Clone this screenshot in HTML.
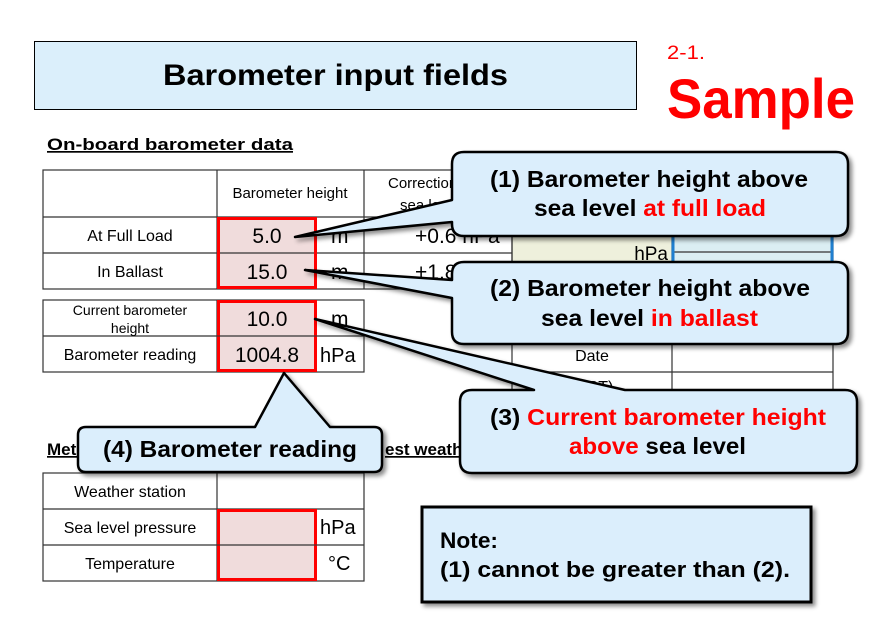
<!DOCTYPE html>
<html><head><meta charset="utf-8"><style>
html,body{margin:0;padding:0;background:#fff;}
svg{display:block;}
text{font-family:"Liberation Sans","Noto Sans CJK JP",sans-serif;}
</style></head><body>
<svg width="896" height="632" viewBox="0 0 896 632" xmlns="http://www.w3.org/2000/svg">
<defs>
<filter id="sh" x="-10%" y="-10%" width="130%" height="140%"><feDropShadow dx="3" dy="3" stdDeviation="2" flood-color="#000" flood-opacity="0.45"/></filter>
</defs>
<rect x="34.5" y="41.5" width="602" height="68" fill="#dbeffb" stroke="#000" stroke-width="1"/>
<text x="163" y="85" font-size="30" font-weight="bold" textLength="345" lengthAdjust="spacingAndGlyphs">Barometer input fields</text>
<text x="667" y="59" font-size="19" fill="#f00" textLength="38" lengthAdjust="spacingAndGlyphs">2-1.</text>
<text x="667" y="118" font-size="56" font-weight="bold" fill="#f00" textLength="188" lengthAdjust="spacingAndGlyphs">Sample</text>

<text x="47" y="150" font-size="17" font-weight="bold" text-decoration="underline" textLength="246" lengthAdjust="spacingAndGlyphs">On-board barometer data</text>

<rect x="512" y="228" width="160" height="34" fill="#eef0dc"/>
<rect x="672" y="228" width="161" height="34" fill="#dbeef3"/>
<g stroke="#333" stroke-width="1.2" fill="none">
<line x1="512" y1="170" x2="512" y2="400"/>
<line x1="672" y1="170" x2="672" y2="400"/>
<line x1="833" y1="170" x2="833" y2="400"/>
<line x1="512" y1="337" x2="833" y2="337"/>
<line x1="512" y1="372" x2="833" y2="372"/>
<line x1="672" y1="252" x2="833" y2="252"/>
</g>
<line x1="673" y1="225" x2="673" y2="262" stroke="#1f7fd0" stroke-width="3"/>
<line x1="832" y1="225" x2="832" y2="262" stroke="#1f7fd0" stroke-width="3"/>
<text x="668" y="260" font-size="19" text-anchor="end">hPa</text>
<text x="592" y="361" font-size="16" text-anchor="middle">Date</text>
<text x="592" y="392" font-size="16" text-anchor="middle">(UST)</text>

<rect x="217" y="217" width="100" height="72" fill="#f0dcdc"/>
<g stroke="#333" stroke-width="1.2" fill="none">
<rect x="43" y="170" width="469" height="119"/>
<line x1="43" y1="217" x2="512" y2="217"/>
<line x1="43" y1="253" x2="512" y2="253"/>
<line x1="217" y1="170" x2="217" y2="289"/>
<line x1="364" y1="170" x2="364" y2="289"/>
</g>
<text x="290" y="198" font-size="15" text-anchor="middle">Barometer height</text>
<text x="388" y="188" font-size="15">Correction</text>
<text x="400" y="210" font-size="15">sea level</text>
<text x="130" y="241" font-size="16" text-anchor="middle">At Full Load</text>
<text x="130" y="277" font-size="16" text-anchor="middle">In Ballast</text>
<text x="267" y="243" font-size="21" text-anchor="middle">5.0</text>
<text x="267" y="279" font-size="21" text-anchor="middle">15.0</text>
<text x="331" y="243" font-size="21">m</text>
<text x="331" y="279" font-size="21">m</text>
<text x="415" y="243" font-size="21">+0.6 hPa</text>
<text x="415" y="279" font-size="21">+1.8 hPa</text>
<rect x="218.5" y="218.5" width="97" height="69" fill="none" stroke="#f00" stroke-width="3"/>

<rect x="217" y="300" width="100" height="72" fill="#f0dcdc"/>
<g stroke="#333" stroke-width="1.2" fill="none">
<rect x="43" y="300" width="321" height="72"/>
<line x1="43" y1="336" x2="364" y2="336"/>
<line x1="217" y1="300" x2="217" y2="372"/>
</g>
<text x="130" y="315" font-size="14" text-anchor="middle">Current barometer</text>
<text x="130" y="333" font-size="14" text-anchor="middle">height</text>
<text x="130" y="360" font-size="16" text-anchor="middle">Barometer reading</text>
<text x="267" y="326" font-size="21" text-anchor="middle">10.0</text>
<text x="267" y="362" font-size="21" text-anchor="middle">1004.8</text>
<text x="331" y="326" font-size="21">m</text>
<text x="320" y="362" font-size="20">hPa</text>
<rect x="218.5" y="301.5" width="97" height="69" fill="none" stroke="#f00" stroke-width="3"/>
<line x1="217" y1="336" x2="317" y2="336" stroke="#333" stroke-width="1"/>

<text x="47" y="455" font-size="17" font-weight="bold" text-decoration="underline">Meteorological data from</text>
<text x="385" y="455" font-size="17" font-weight="bold" text-decoration="underline">est weather station</text>

<rect x="217" y="509" width="100" height="72" fill="#f0dcdc"/>
<g stroke="#333" stroke-width="1.2" fill="none">
<rect x="43" y="473" width="321" height="108"/>
<line x1="43" y1="509" x2="364" y2="509"/>
<line x1="43" y1="545" x2="364" y2="545"/>
<line x1="217" y1="473" x2="217" y2="581"/>
</g>
<text x="130" y="497" font-size="16" text-anchor="middle">Weather station</text>
<text x="130" y="533" font-size="16" text-anchor="middle">Sea level pressure</text>
<text x="130" y="569" font-size="16" text-anchor="middle">Temperature</text>
<text x="320" y="534" font-size="20">hPa</text>
<text x="328" y="570" font-size="20">°C</text>
<rect x="218.5" y="510.5" width="97" height="69" fill="none" stroke="#f00" stroke-width="3"/>
<line x1="217" y1="545" x2="317" y2="545" stroke="#333" stroke-width="1"/>

<g filter="url(#sh)">
<path d="M464,152 H836 Q848,152 848,164 V224 Q848,236 836,236 H464 Q452,236 452,224 V222 L295,237 L452,200 V164 Q452,152 464,152 Z" fill="#dbeefc" stroke="#000" stroke-width="2.5" stroke-linejoin="round"/>
</g>
<text x="490" y="187" font-size="23" font-weight="bold" textLength="318" lengthAdjust="spacingAndGlyphs">(1) Barometer height above</text>
<text x="534" y="216" font-size="23" font-weight="bold" textLength="232" lengthAdjust="spacingAndGlyphs">sea level <tspan fill="#f00">at full load</tspan></text>

<g filter="url(#sh)">
<path d="M464,262 H836 Q848,262 848,274 V332 Q848,344 836,344 H464 Q452,344 452,332 V298 L305,270 L452,280 V274 Q452,262 464,262 Z" fill="#dbeefc" stroke="#000" stroke-width="2.5" stroke-linejoin="round"/>
</g>
<text x="490" y="296" font-size="23" font-weight="bold" textLength="320" lengthAdjust="spacingAndGlyphs">(2) Barometer height above</text>
<text x="541" y="326" font-size="23" font-weight="bold" textLength="217" lengthAdjust="spacingAndGlyphs">sea level <tspan fill="#f00">in ballast</tspan></text>

<g filter="url(#sh)">
<path d="M472,390 H534 L315,319 L625,390 H845 Q857,390 857,402 V461 Q857,473 845,473 H472 Q460,473 460,461 V402 Q460,390 472,390 Z" fill="#dbeefc" stroke="#000" stroke-width="2.5" stroke-linejoin="round"/>
</g>
<text x="490" y="425" font-size="23" font-weight="bold" textLength="336" lengthAdjust="spacingAndGlyphs">(3) <tspan fill="#f00">Current barometer height</tspan></text>
<text x="569" y="454" font-size="23" font-weight="bold" textLength="177" lengthAdjust="spacingAndGlyphs"><tspan fill="#f00">above</tspan> sea level</text>

<g filter="url(#sh)">
<path d="M86,427 H255 L284,373 L330,427 H374 Q382,427 382,435 V464 Q382,472 374,472 H86 Q78,472 78,464 V435 Q78,427 86,427 Z" fill="#dbeefc" stroke="#000" stroke-width="2.5" stroke-linejoin="round"/>
</g>
<text x="103" y="457" font-size="23" font-weight="bold" textLength="254" lengthAdjust="spacingAndGlyphs">(4) Barometer reading</text>

<g filter="url(#sh)">
<rect x="422" y="507" width="389" height="95" fill="#dbeefc" stroke="#000" stroke-width="3"/>
</g>
<text x="440" y="548" font-size="22" font-weight="bold" textLength="58" lengthAdjust="spacingAndGlyphs">Note:</text>
<text x="440" y="577" font-size="22" font-weight="bold" textLength="350" lengthAdjust="spacingAndGlyphs">(1) cannot be greater than (2).</text>
</svg>
</body></html>
